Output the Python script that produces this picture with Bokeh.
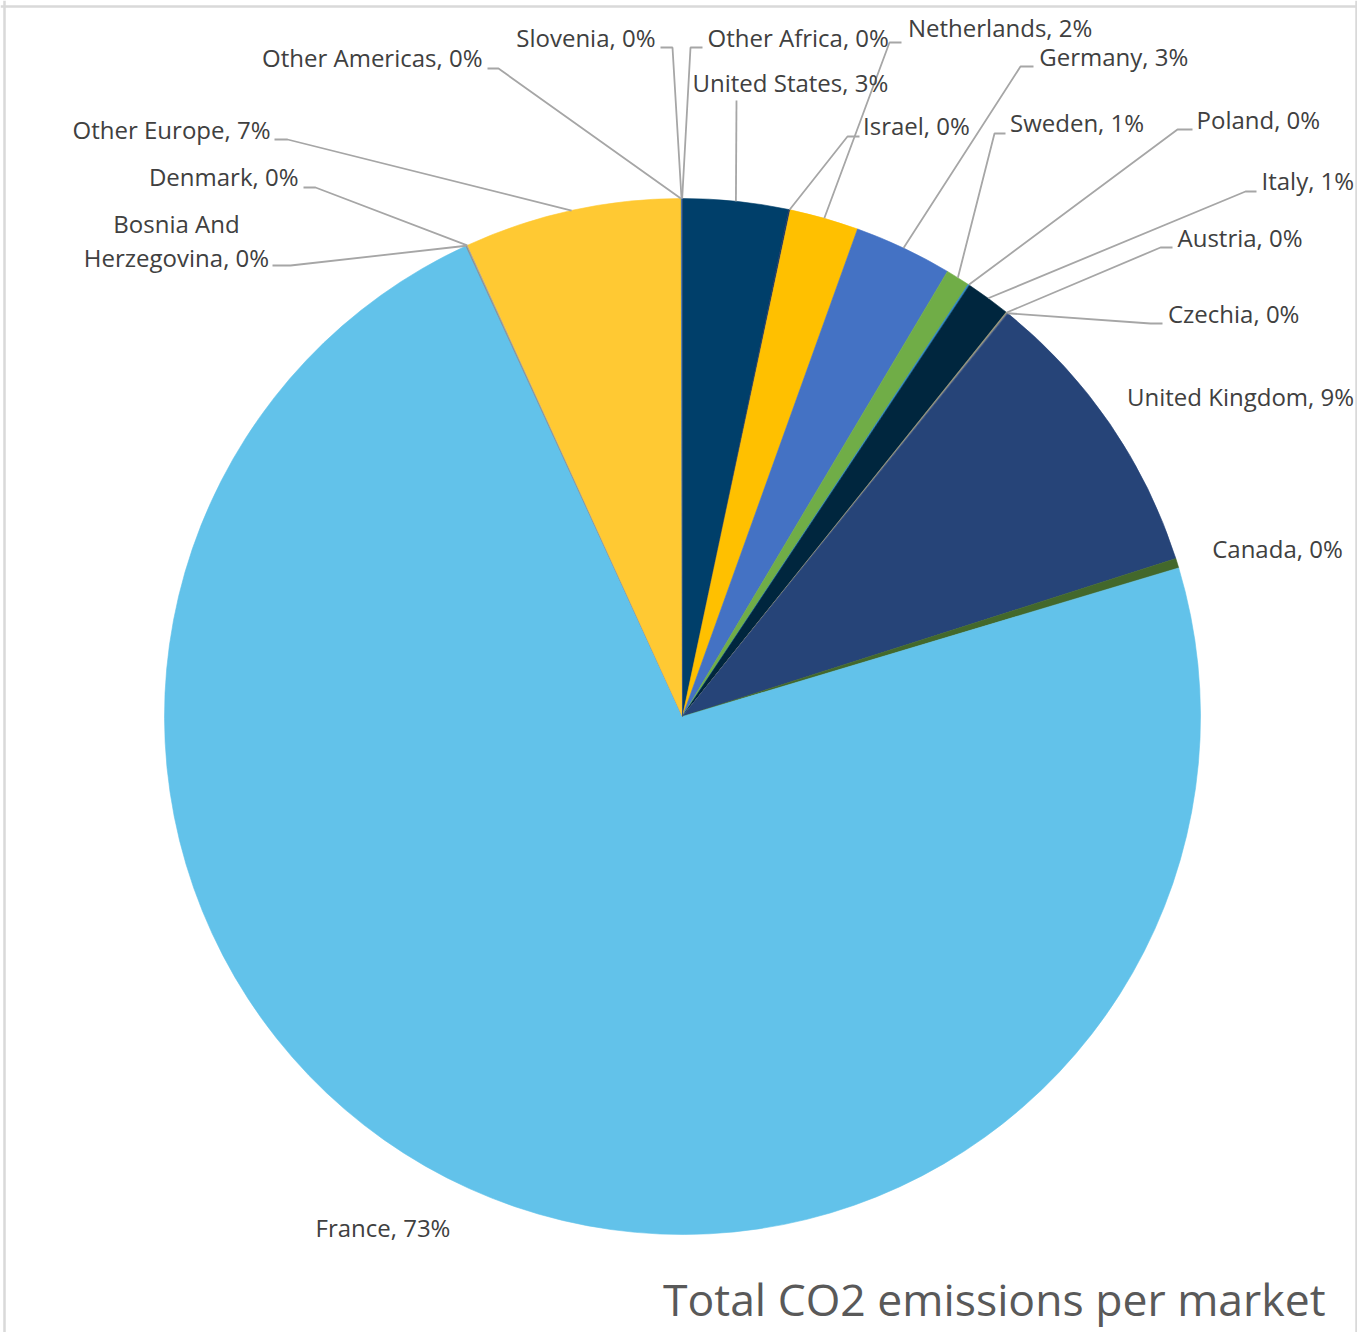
import math
from bokeh.plotting import figure
from bokeh.models import Range1d, Span, ColumnDataSource
from bokeh.core.properties import value
from bokeh.embed import file_html
from bokeh.resources import INLINE

# ---------------- data (clockwise from 12 o'clock) ----------------
countries = ["United States", "Israel", "Netherlands", "Germany", "Sweden", "Poland",
             "Italy", "Austria", "Czechia", "United Kingdom", "Canada", "France",
             "Bosnia And Herzegovina", "Denmark", "Other Europe", "Other Americas",
             "Slovenia", "Other Africa"]
shares = [3.29, 0.05, 2.15, 3.06, 0.75, 0.05,
          1.40, 0.04, 0.03, 9.26, 0.30, 72.80,
          0.03, 0.03, 6.75, 0.02,
          0.02, 0.02]
colors = ["#003F6A", "#1F3864", "#FFC000", "#4472C4", "#70AD47", "#2E86C1",
          "#00263E", "#9E9A78", "#5B6A8A", "#264478", "#43682B", "#62C2EA",
          "#8A8A8A", "#A5A5A5", "#FFC933", "#FFC000",
          "#5B9BD5", "#264478"]
title_text = "Total CO2 emissions per market"

# ---------------- layout (picture pixels) ----------------
W, H = 1357, 1332
def dx(X): return X
def dy(Y): return H - Y

CX, CY, R = 682, 716, 518          # pie centre / radius

# label layout: name -> (text x, baseline y, align, leader points after anchor)
label_layout = {
    "United States":  (692, 92.5, "left", [(736, 100)]),
    "Israel":         (862.5, 136, "left", [(847, 136), (859, 136)]),
    "Netherlands":    (907.5, 38, "left", [(889, 42), (901, 42)]),
    "Germany":        (1038.7, 67, "left", [(1020, 66), (1033, 66)]),
    "Sweden":         (1009.5, 133, "left", [(994, 133), (1005, 133)]),
    "Poland":         (1196, 129.5, "left", [(1177, 129), (1192, 129)]),
    "Italy":          (1261, 191, "left", [(1245, 191), (1256, 191)]),
    "Austria":        (1177, 248, "left", [(1160, 247), (1172, 247)]),
    "Czechia":        (1167.5, 324, "left", [(1150, 323), (1162, 323)]),
    "United Kingdom": (1126.5, 407, "left", []),
    "Canada":         (1211.7, 558.5, "left", []),
    "France":         (315, 1238, "left", []),
    "Bosnia And Herzegovina": (176, 267.5, "center", [(290, 265), (272, 265)]),
    "Denmark":        (298, 186.5, "right", [(315, 187), (303, 187)]),
    "Other Europe":   (270, 139.5, "right", [(287, 139), (274, 139)]),
    "Other Americas": (482, 68, "right", [(498, 68), (487, 68)]),
    "Slovenia":       (655, 47.5, "right", [(672, 47), (660, 47)]),
    "Other Africa":   (707, 47.5, "left", [(690, 47), (702, 47)]),
}

FONT = "Open Sans"
LABEL_PX = 24
TITLE_PX = 44.5
BASE_FIX = 0.44        # renderer's baseline sits this many em lower than requested
LABEL_COLOR = "#404040"
LEADER_COLOR = "#A6A6A6"

# ---------------- figure ----------------
p = figure(width=W, height=H, x_range=Range1d(0, W), y_range=Range1d(0, H),
           x_axis_type=None, y_axis_type=None, toolbar_location=None,
           output_backend="svg", min_border=0)
p.outline_line_color = None
p.grid.visible = False
p.background_fill_color = "white"
p.border_fill_color = "white"

total = sum(shares)
starts, ends, mids = [], [], []
cum = 0.0
for s in shares:
    f0 = cum / total
    cum += s
    f1 = cum / total
    starts.append(math.pi / 2 - 2 * math.pi * f0)
    ends.append(math.pi / 2 - 2 * math.pi * f1)
    mids.append(2 * math.pi * (f0 + f1) / 2)   # clockwise from top

src = ColumnDataSource(dict(start=starts, end=ends, color=colors))
p.wedge(x=dx(CX), y=dy(CY), radius=R, start_angle="start", end_angle="end",
        direction="clock", fill_color="color", line_color="color", line_width=0.6,
        source=src)

# leader lines
xs, ys = [], []
for name, theta in zip(countries, mids):
    pts = label_layout[name][3]
    if not pts:
        continue
    ax = CX + R * math.sin(theta)
    ay = CY - R * math.cos(theta)
    path = [(ax, ay)] + pts
    xs.append([dx(px) for px, _ in path])
    ys.append([dy(py) for _, py in path])
p.multi_line(xs=xs, ys=ys, line_color=LEADER_COLOR, line_width=1.8)

def put_text(x, y_base, txt, size, color, align):
    p.text(x=[dx(x)], y=[dy(y_base - BASE_FIX * size)], text=[txt],
           text_font=value(FONT), text_font_size=value(f"{size}px"),
           text_color=color, text_align=align, text_baseline="alphabetic")

# labels
for name, s in zip(countries, shares):
    tx, ty, align, _ = label_layout[name]
    pct = f"{round(s / total * 100):.0f}%"
    if name == "Bosnia And Herzegovina":
        lines = ["Bosnia And", f"Herzegovina, {pct}"]
        for i, ln in enumerate(lines):
            put_text(tx, ty - (len(lines) - 1 - i) * 33.5, ln, LABEL_PX, LABEL_COLOR, align)
    else:
        put_text(tx, ty, f"{name}, {pct}", LABEL_PX, LABEL_COLOR, align)

# chart title (bottom right)
put_text(1325, 1318, title_text, TITLE_PX, "#595959", "right")

# chart-area border (top, left, right)
border = "#D9D9D9"
p.add_layout(Span(location=dy(6), dimension="width", line_color=border, line_width=2.5))
p.add_layout(Span(location=dx(4), dimension="height", line_color=border, line_width=2.5))
p.add_layout(Span(location=dx(1356), dimension="height", line_color=border, line_width=2.5))

open("out.html", "w").write(file_html(p, INLINE))
